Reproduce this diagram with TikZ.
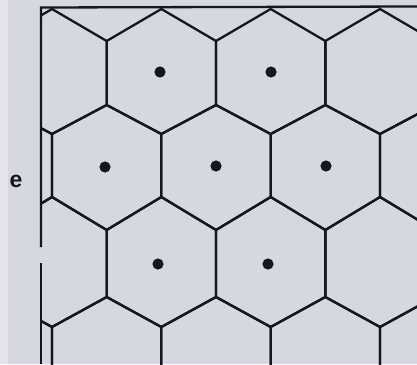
\documentclass[tikz,border=0pt]{standalone}
\usepackage{fontspec}
\setsansfont{Liberation Sans}
\begin{document}
\begin{tikzpicture}[x=1pt,y=-1pt]
\definecolor{bg}{HTML}{D6D7DF}
\definecolor{bgl}{HTML}{E4E4EA}
\definecolor{ink}{HTML}{16161E}
\tikzset{
  gridline/.style={draw=ink,line width=2.3pt,line join=miter},
  dotmark/.style={fill=ink},
  lbl/.style={font=\sffamily\bfseries\fontsize{23}{23}\selectfont,text=ink,inner sep=0pt}
}
\fill[bg] (0,0) rectangle (417,364);
\fill[bgl] (0,0) rectangle (8,364);
\useasboundingbox (0,0) rectangle (417,364);
\begin{scope}
  \clip (41,7) rectangle (417,364);
  \foreach \ta/\ua/\la/\ba/\off in {9/41/105/134/0, 105/134/197/230/1, 197/230/297/327/0, 297/327/391/420/1}{
    \foreach \k in {-1,...,3}{
      \pgfmathsetmacro{\xc}{52+54.67*(2*\k+\off)}
      \pgfmathsetmacro{\xl}{\xc-54.67}
      \pgfmathsetmacro{\xr}{\xc+54.67}
      \draw[gridline] (\xc,\ta) -- (\xr,\ua) -- (\xr,\la) -- (\xc,\ba) -- (\xl,\la) -- (\xl,\ua) -- cycle;
    }
  }
\end{scope}
\coordinate (fbl) at (41,364);
\coordinate (fgap1) at (41,263);
\coordinate (fgap2) at (41,247);
\coordinate (ftl) at (41,7.5);
\coordinate (ftr) at (417,6.5);
\draw[gridline] (fbl) -- (fgap1);
\draw[gridline] (fgap2) -- (ftl) -- (ftr);
\foreach \n/\x/\y in {d1/160/72, d2/271/72, d3/105/167, d4/216/166, d5/326/166, d6/158/264, d7/268/264}{
  \fill[dotmark] (\x,\y) circle (5.6pt) coordinate (\n);
}
\node[lbl] (label) at (16,181) {e};
\end{tikzpicture}
\end{document}
